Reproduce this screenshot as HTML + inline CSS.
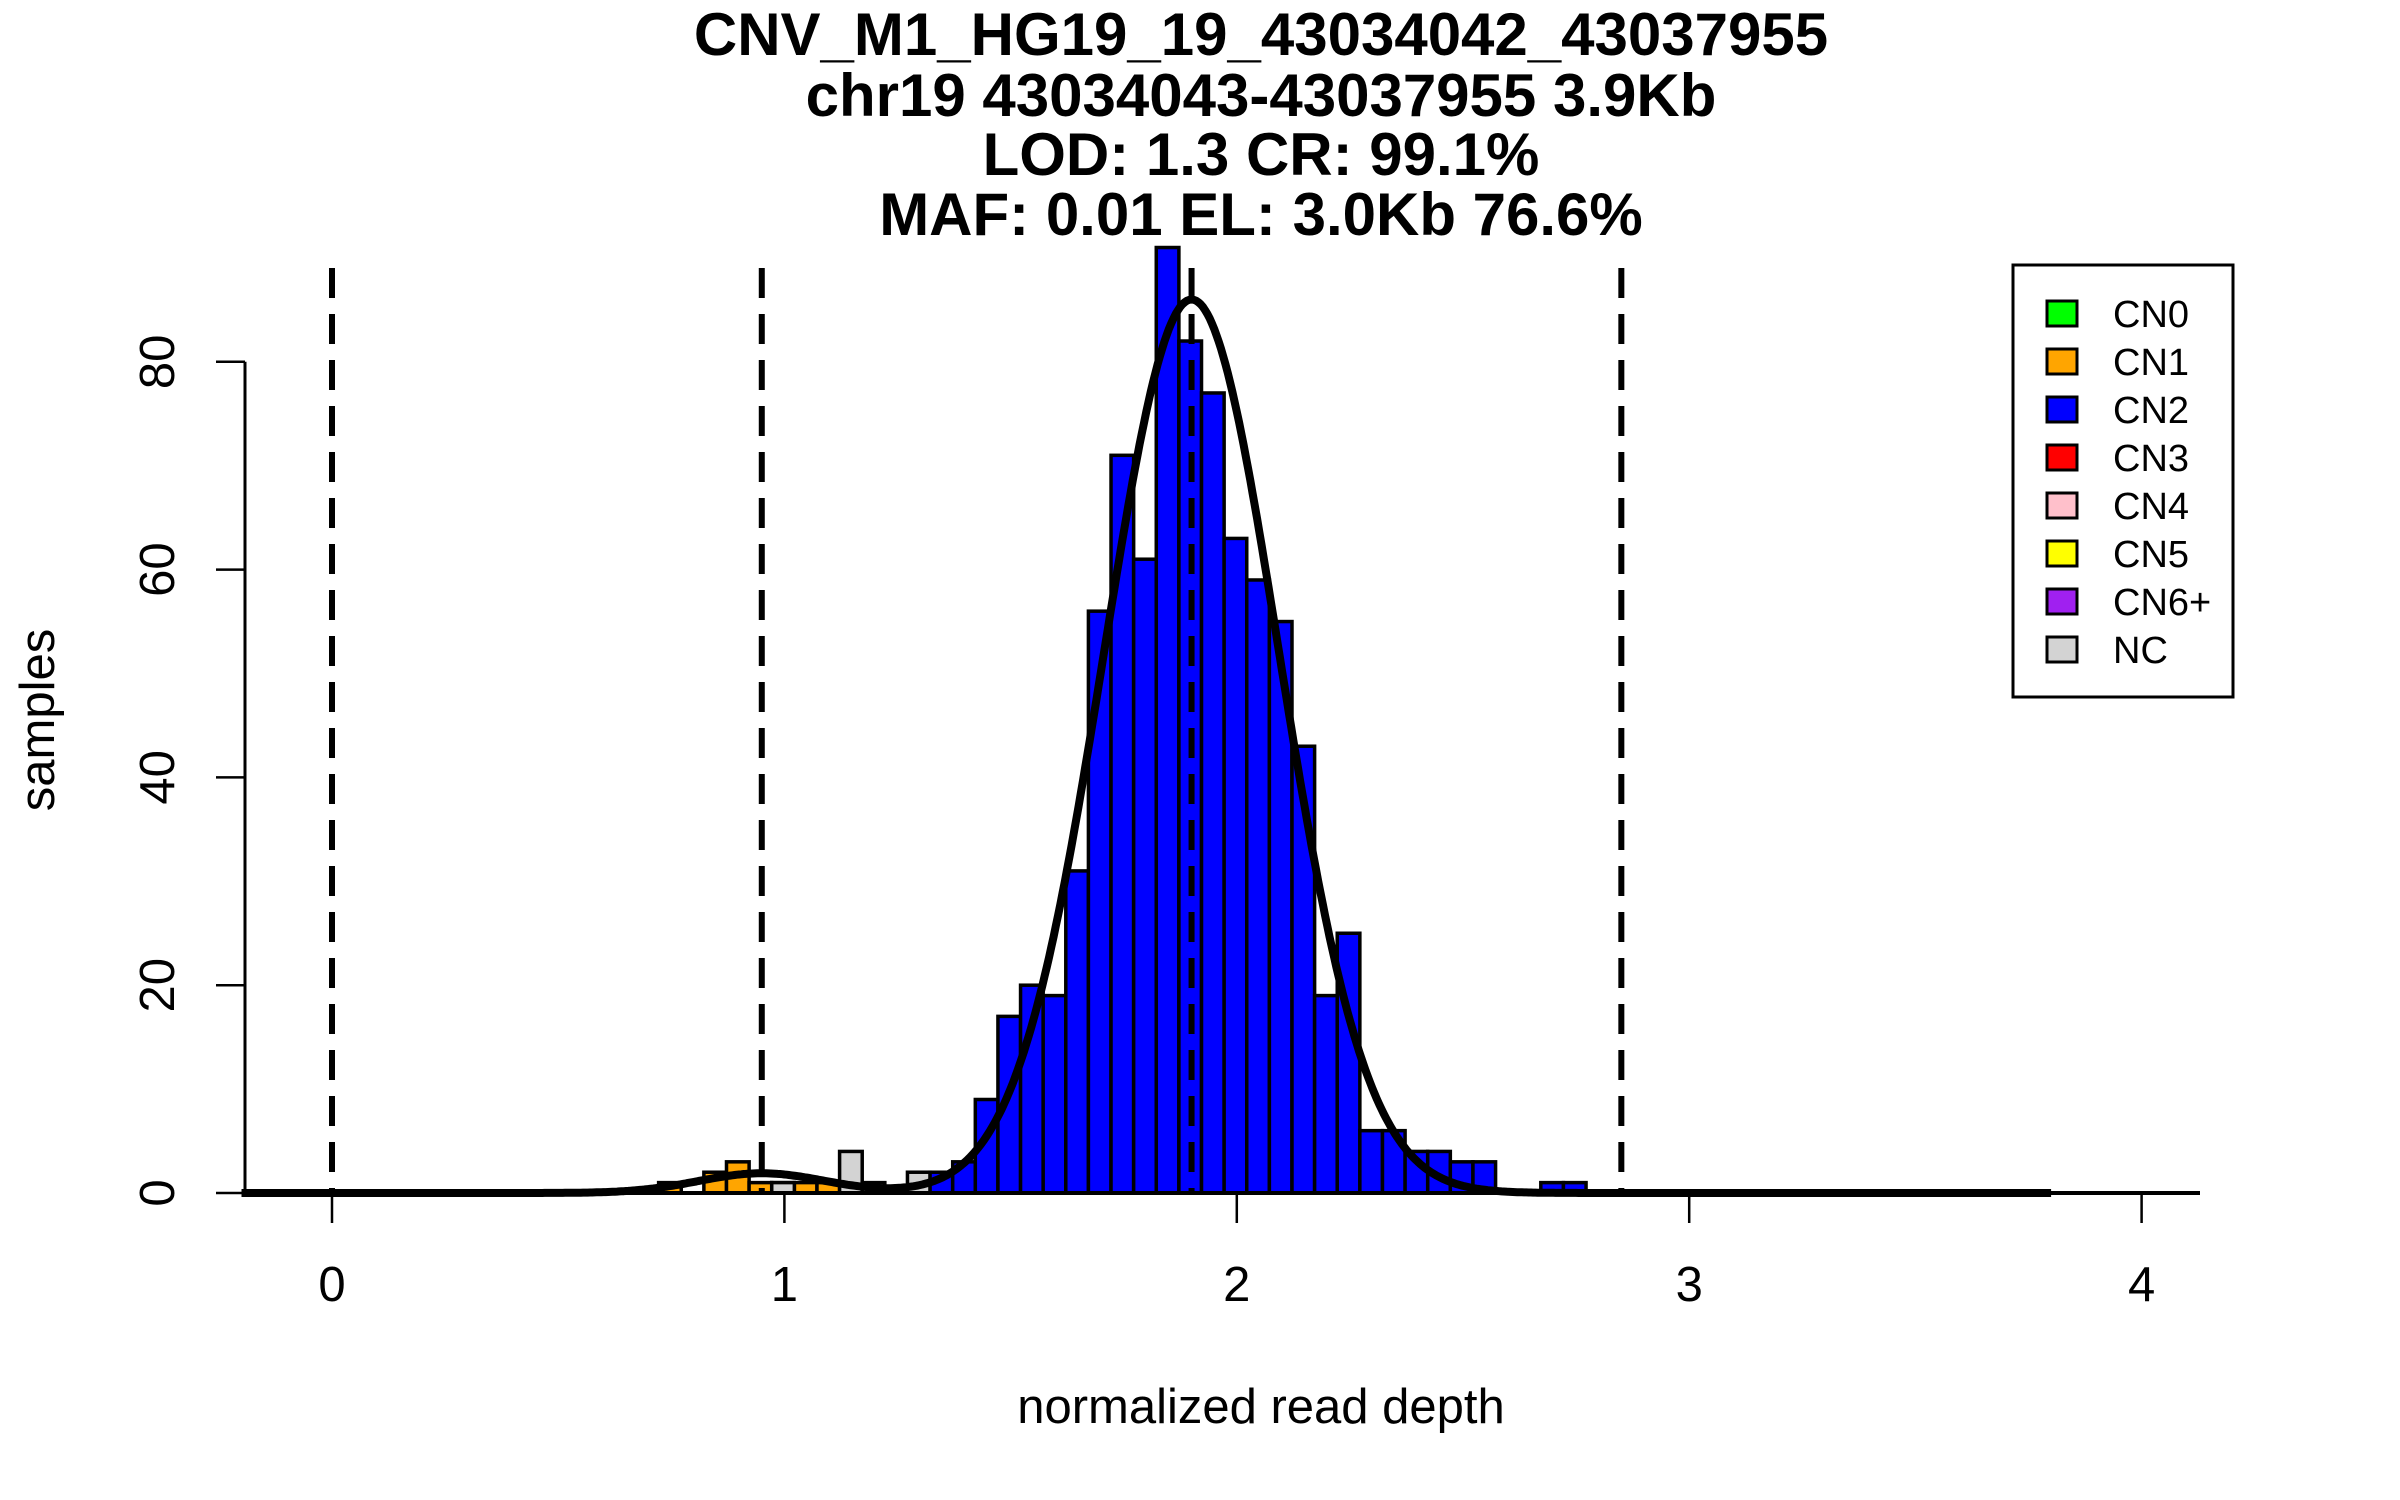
<!DOCTYPE html>
<html><head><meta charset="utf-8"><style>
html,body{margin:0;padding:0;background:#fff;}
svg{display:block;font-family:"Liberation Sans",Arial,sans-serif;}
</style></head><body>
<svg id="chart" width="2400" height="1500" viewBox="0 0 2400 1500" xmlns="http://www.w3.org/2000/svg">
<rect width="2400" height="1500" fill="#fff"/>
<g font-weight="bold" font-size="60" text-anchor="middle">
<text x="1261" y="55">CNV_M1_HG19_19_43034042_43037955</text>
<text x="1261" y="116">chr19 43034043-43037955 3.9Kb</text>
<text x="1261" y="175">LOD: 1.3 CR: 99.1%</text>
<text x="1261" y="235">MAF: 0.01 EL: 3.0Kb 76.6%</text>
</g>
<g id="plot"></g>
<g>
<rect x="2013" y="265" width="220" height="432" fill="#fff" stroke="#000" stroke-width="3"/>
<g id="legendItems"></g>
</g>
<text x="1261" y="1423" font-size="49" text-anchor="middle">normalized read depth</text>
<text x="54" y="720" font-size="49" text-anchor="middle" transform="rotate(-90 54 720)">samples</text>
</svg>
<script>
const xTicks = [0, 1, 2, 3, 4];
const yTicks = [0, 20, 40, 60, 80];
const binWidth = 0.05;
const cn2Start = 1.322;
const cn2Counts = [2,3,9,17,20,19,31,56,71,61,91,82,77,63,59,55,43,19,25,6,6,4,4,3,3,0,0,1,1];
const cn1Start = 0.722;
const cn1Counts = [1,0,2,3,1,1,1,1];
const ncStart = 0.972;
const ncCounts = [1,0,0,4,1,0,2];
const zeroRanges = [[-0.19,0.25],[0.40,0.72],[2.77,3.80]];
const cutoffs = [0, 0.95, 1.9, 2.85];
const fitMeans = [0.95, 1.9];
const fitSds = [0.14, 0.193];
const fitPeaks = [1.9, 86];
const legendLabels = ["CN0","CN1","CN2","CN3","CN4","CN5","CN6+","NC"];
const legendColors = ["#00ff00","#ffa500","#0000ff","#ff0000","#ffc0cb","#ffff00","#a020f0","#d3d3d3"];

const NS = "http://www.w3.org/2000/svg";
const X0 = 332, XU = 452.4, Y0 = 1193, YU = 10.39;
const xs = v => X0 + XU * v;
const ys = c => Y0 - YU * c;
const plot = document.getElementById('plot');
function mk(tag, attrs, parent) {
  const e = document.createElementNS(NS, tag);
  for (const k in attrs) e.setAttribute(k, attrs[k]);
  (parent || plot).appendChild(e);
  return e;
}
zeroRanges.forEach(r => {
  const l = mk('line', {x1: xs(r[0]), x2: xs(r[1]), y1: Y0, y2: Y0, stroke: '#000', 'stroke-width': 4});
  
  
});
function bars(start, counts, color, name) {
  counts.forEach((c, i) => {
    const x1 = xs(start + i * binWidth), x2 = xs(start + (i + 1) * binWidth);
    const r = mk('rect', {x: x1, y: ys(c), width: x2 - x1, height: Y0 - ys(c), fill: color, stroke: '#000', 'stroke-width': 3.5});
    
    
  });
}
bars(cn1Start, cn1Counts, '#ffa500', 'cn1-bar');
bars(ncStart, ncCounts, '#d3d3d3', 'nc-bar');
bars(cn2Start, cn2Counts, '#0000ff', 'cn2-bar');
const xa = mk('line', {x1: 245, x2: 2200, y1: Y0, y2: Y0, stroke: '#000', 'stroke-width': 4});


xTicks.forEach(t => {
  const tk = mk('line', {x1: xs(t), x2: xs(t), y1: Y0, y2: 1223, stroke: '#000', 'stroke-width': 2.5});
  
  
  const tx = mk('text', {x: xs(t), y: 1301, 'font-size': 49, 'text-anchor': 'middle'});
  tx.textContent = t;
  
  
});
const ya = mk('line', {x1: 245, x2: 245, y1: ys(0), y2: ys(80), stroke: '#000', 'stroke-width': 3});


yTicks.forEach(t => {
  const tk = mk('line', {x1: 216, x2: 245, y1: ys(t), y2: ys(t), stroke: '#000', 'stroke-width': 2.5});
  
  
  const tx = mk('text', {x: 174, y: ys(t), 'font-size': 49, 'text-anchor': 'middle', transform: `rotate(-90 174 ${ys(t)})`});
  tx.textContent = t;
  
  
});
cutoffs.forEach(c => {
  const l = mk('line', {x1: xs(c), x2: xs(c), y1: 268, y2: Y0, stroke: '#000', 'stroke-width': 6, 'stroke-dasharray': '30 16'});
  
  
});
let d = '';
for (let v = -0.2; v <= 3.8; v += 0.005) {
  let y = 0;
  for (let k = 0; k < fitMeans.length; k++) y += fitPeaks[k] * Math.exp(-0.5 * Math.pow((v - fitMeans[k]) / fitSds[k], 2));
  d += (d ? 'L' : 'M') + xs(v).toFixed(1) + ' ' + ys(y).toFixed(1);
}
const cv = mk('path', {d: d, fill: 'none', stroke: '#000', 'stroke-width': 8, 'stroke-linejoin': 'round'});


const lg = document.getElementById('legendItems');
legendLabels.forEach((lab, i) => {
  const cy = 313 + i * 48;
  const sw = mk('rect', {x: 2047, y: cy - 12, width: 30, height: 25, fill: legendColors[i], stroke: '#000', 'stroke-width': 3}, lg);
  
  
  const tx = mk('text', {x: 2113, y: cy + 14, 'font-size': 38}, lg);
  tx.textContent = lab;
  
  
});
</script>
</body></html>
